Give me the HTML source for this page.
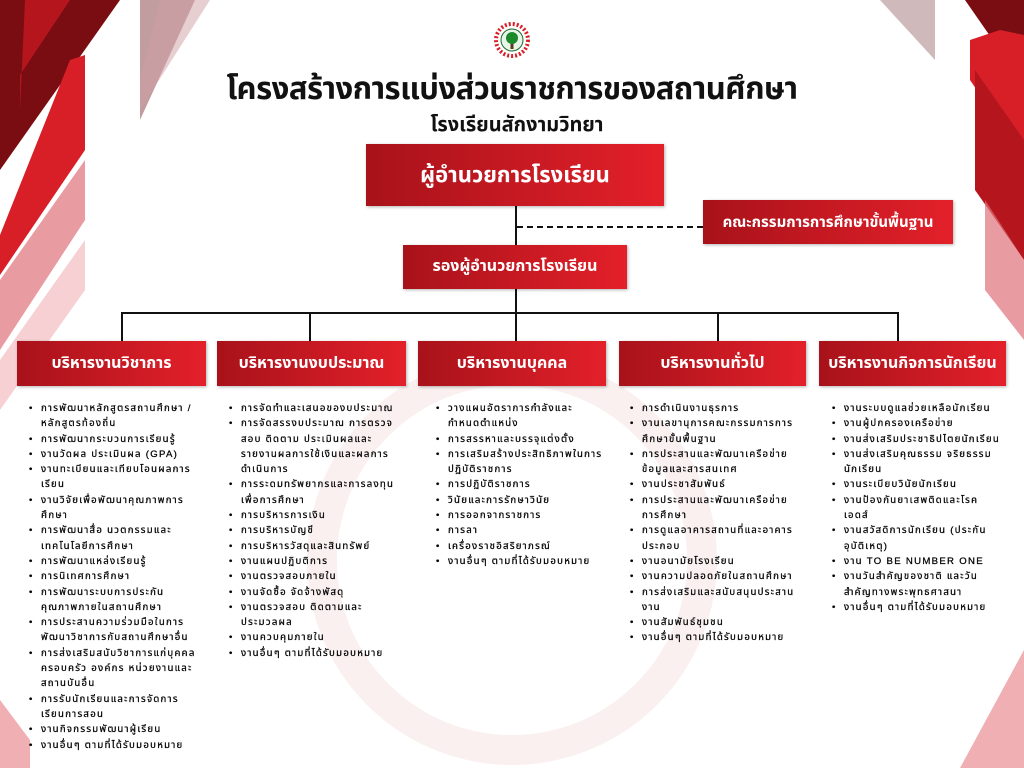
<!DOCTYPE html>
<html><head><meta charset="utf-8"><style>
body{margin:0;width:1024px;height:768px;overflow:hidden;background:#fff;position:relative;font-family:"Liberation Sans","Noto Sans Thai","Loma","Garuda",sans-serif}
.bg{position:absolute;left:0;top:0}
.t1{position:absolute;left:0;width:1024px;top:66px;text-align:center;font-size:31px;font-weight:bold;color:#111;letter-spacing:-0.5px}
.t2{position:absolute;left:0;width:1034px;top:110px;text-align:center;font-size:20px;font-weight:bold;color:#111}
.box{position:absolute;background:linear-gradient(90deg,#a8121a,#e3202a);color:#fff;font-weight:bold;display:flex;align-items:center;justify-content:center;box-shadow:1px 1px 3px rgba(0,0,0,.3);white-space:nowrap}
.ln{position:absolute;background:#111}
ul{position:absolute;margin:0;padding:0 0 0 12px;font-size:9.6px;line-height:15.3px;color:#000;letter-spacing:1.3px;list-style:none;-webkit-text-stroke:0.25px #000}
li{position:relative}
li:before{content:"•";position:absolute;left:-12px}
</style></head><body>
<svg class="bg" width="1024" height="768">
<polygon points="0,0 120,0 0,170" fill="#7a0d12"/>
<polygon points="25,0 70,0 20,75 20,110" fill="#b5161d"/>
<polygon points="70,60 85,55 85,150 0,275 0,235" fill="#d81f27"/>
<polygon points="0,280 85,160 85,220 0,350" fill="#e0707a" opacity=".7"/>
<polygon points="0,360 85,240 85,290 0,410" fill="#f0b0b5" opacity=".6"/>
<polygon points="140,0 195,0 140,120" fill="#9a5c60" opacity=".6"/>
<polygon points="160,0 210,0 140,110 140,80" fill="#d0a0a3" opacity=".5"/>
<polygon points="1024,0 965,0 1024,85" fill="#7a0d12"/>
<polygon points="1000,30 1024,35 1024,160 970,80 970,40" fill="#d81f27"/>
<polygon points="975,70 1024,140 1024,260 975,190" fill="#b5161d"/>
<polygon points="985,200 1024,260 1024,340 985,290" fill="#e0707a" opacity=".7"/>
<polygon points="880,0 935,0 935,60" fill="#b08a8c" opacity=".6"/>
<polygon points="0,700 30,740 30,768 0,768" fill="#e57a80" opacity=".6"/>
<polygon points="1024,650 1024,768 960,768" fill="#e57a80" opacity=".6"/>
<g transform="translate(512,40)"><circle r="16" fill="none" stroke="#d81f27" stroke-width="4" stroke-dasharray="2 2"/><circle r="11" fill="#eaf5ea" stroke="#1a6a2a"/><rect x="-1.5" y="0" width="3" height="9" fill="#5a3a1a"/><circle cy="-2" r="6" fill="#1a8a2a"/></g>
<circle cx="512" cy="560" r="190" fill="none" stroke="#faf0f0" stroke-width="30"/>
</svg>
<div class="t1">โครงสร้างการแบ่งส่วนราชการของสถานศึกษา</div>
<div class="t2">โรงเรียนสักงามวิทยา</div>
<div class="ln" style="left:515px;top:206px;width:2px;height:108px"></div>
<div style="position:absolute;left:517px;top:226px;width:186px;border-top:2px dashed #111"></div>
<div class="ln" style="left:121px;top:312px;width:778px;height:2px"></div>
<div class="ln" style="left:121px;top:312px;width:2px;height:30px"></div>
<div class="ln" style="left:309px;top:312px;width:2px;height:30px"></div>
<div class="ln" style="left:515px;top:312px;width:2px;height:30px"></div>
<div class="ln" style="left:717px;top:312px;width:2px;height:30px"></div>
<div class="ln" style="left:897px;top:312px;width:2px;height:30px"></div>
<div class="box" style="left:366px;top:144px;width:298px;height:62px;font-size:22px">ผู้อำนวยการโรงเรียน</div>
<div class="box" style="left:703px;top:200px;width:250px;height:44px;font-size:15px">คณะกรรมการการศึกษาขั้นพื้นฐาน</div>
<div class="box" style="left:403px;top:245px;width:224px;height:44px;font-size:16px">รองผู้อำนวยการโรงเรียน</div>
<div class="box" style="left:17px;top:341px;width:189px;height:45px;font-size:16px">บริหารงานวิชาการ</div>
<div class="box" style="left:217px;top:341px;width:189px;height:45px;font-size:16px">บริหารงานงบประมาณ</div>
<div class="box" style="left:418px;top:341px;width:188px;height:45px;font-size:16px">บริหารงานบุคคล</div>
<div class="box" style="left:619px;top:341px;width:187px;height:45px;font-size:16px">บริหารงานทั่วไป</div>
<div class="box" style="left:819px;top:341px;width:187px;height:45px;font-size:16px">บริหารงานกิจการนักเรียน</div>
<ul style="left:29px;top:401px;width:165px">
<li>การพัฒนาหลักสูตรสถานศึกษา /<br>หลักสูตรท้องถิ่น</li><li>การพัฒนากระบวนการเรียนรู้</li><li>งานวัดผล ประเมินผล (GPA)</li><li>งานทะเบียนและเทียบโอนผลการ<br>เรียน</li><li>งานวิจัยเพื่อพัฒนาคุณภาพการ<br>ศึกษา</li><li>การพัฒนาสื่อ นวตกรรมและ<br>เทคโนโลยีการศึกษา</li><li>การพัฒนาแหล่งเรียนรู้</li><li>การนิเทศการศึกษา</li><li>การพัฒนาระบบการประกัน<br>คุณภาพภายในสถานศึกษา</li><li>การประสานความร่วมมือในการ<br>พัฒนาวิชาการกับสถานศึกษาอื่น</li><li>การส่งเสริมสนับวิชาการแก่บุคคล<br>ครอบครัว องค์กร หน่วยงานและ<br>สถานบันอื่น</li><li>การรับนักเรียนและการจัดการ<br>เรียนการสอน</li><li>งานกิจกรรมพัฒนาผู้เรียน</li><li>งานอื่นๆ ตามที่ได้รับมอบหมาย</li></ul>
<ul style="left:229px;top:401px;width:170px">
<li>การจัดทำและเสนอของบประมาณ</li><li>การจัดสรรงบประมาณ การตรวจ<br>สอบ ติดตาม ประเมินผลและ<br>รายงานผลการใช้เงินและผลการ<br>ดำเนินการ</li><li>การระดมทรัพยากรและการลงทุน<br>เพื่อการศึกษา</li><li>การบริหารการเงิน</li><li>การบริหารบัญชี</li><li>การบริหารวัสดุและสินทรัพย์</li><li>งานแผนปฏิบติการ</li><li>งานตรวจสอบภายใน</li><li>งานจัดซื้อ จัดจ้างพัสดุ</li><li>งานตรวจสอบ ติดตามและ<br>ประมวลผล</li><li>งานควบคุมภายใน</li><li>งานอื่นๆ ตามที่ได้รับมอบหมาย</li></ul>
<ul style="left:436px;top:401px;width:170px">
<li>วางแผนอัตราการกำลังและ<br>กำหนดตำแหน่ง</li><li>การสรรหาและบรรจุแต่งตั้ง</li><li>การเสริมสร้างประสิทธิภาพในการ<br>ปฏิบัติราชการ</li><li>การปฏิบัติราชการ</li><li>วินัยและการรักษาวินัย</li><li>การออกจากราชการ</li><li>การลา</li><li>เครื่องราชอิสริยาภรณ์</li><li>งานอื่นๆ ตามที่ได้รับมอบหมาย</li></ul>
<ul style="left:630px;top:401px;width:175px">
<li>การดำเนินงานธุรการ</li><li>งานเลขานุการคณะกรรมการการ<br>ศึกษาขั้นพื้นฐาน</li><li>การประสานและพัฒนาเครือข่าย<br>ข้อมูลและสารสนเทศ</li><li>งานประชาสัมพันธ์</li><li>การประสานและพัฒนาเครือข่าย<br>การศึกษา</li><li>การดูแลอาคารสถานที่และอาคาร<br>ประกอบ</li><li>งานอนามัยโรงเรียน</li><li>งานความปลอดภัยในสถานศึกษา</li><li>การส่งเสริมและสนับสนุนประสาน<br>งาน</li><li>งานสัมพันธ์ชุมชน</li><li>งานอื่นๆ ตามที่ได้รับมอบหมาย</li></ul>
<ul style="left:832px;top:401px;width:180px">
<li>งานระบบดูแลช่วยเหลือนักเรียน</li><li>งานผู้ปกครองเครือข่าย</li><li>งานส่งเสริมประชาธิปไตยนักเรียน</li><li>งานส่งเสริมคุณธรรม จริยธรรม<br>นักเรียน</li><li>งานระเบียบวินัยนักเรียน</li><li>งานป้องกันยาเสพติดและโรค<br>เอดส์</li><li>งานสวัสดิการนักเรียน (ประกัน<br>อุบัติเหตุ)</li><li>งาน TO BE NUMBER ONE</li><li>งานวันสำคัญของชาติ และวัน<br>สำคัญทางพระพุทธศาสนา</li><li>งานอื่นๆ ตามที่ได้รับมอบหมาย</li></ul>
</body></html>
